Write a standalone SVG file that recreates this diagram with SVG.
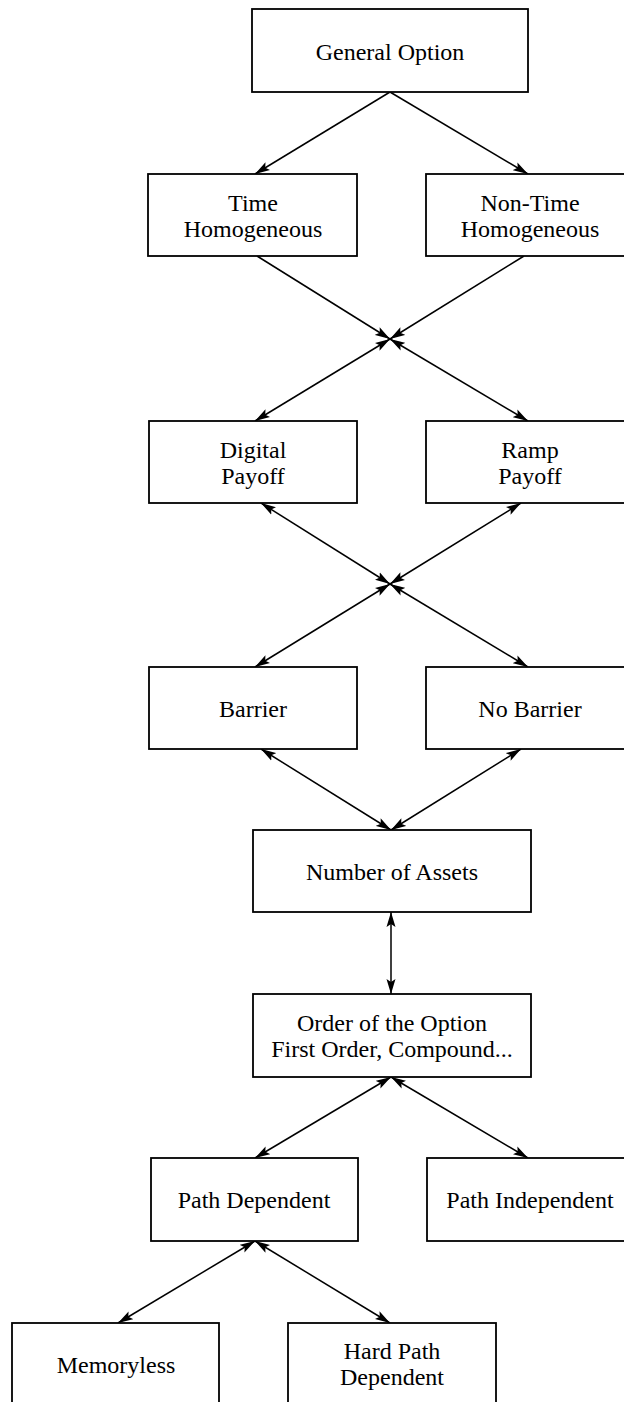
<svg xmlns="http://www.w3.org/2000/svg" width="624" height="1402" viewBox="0 0 624 1402">
<defs>
<marker id="ah" viewBox="0 0 15 10" refX="15" refY="5" markerWidth="15" markerHeight="10" markerUnits="userSpaceOnUse" orient="auto-start-reverse">
<path d="M0,0.5 L15,5 L0,9.5 L3,5 z" fill="#000"/>
</marker>
</defs>
<style>
.box{fill:#fff;stroke:#000;stroke-width:1.8}
.t{font-family:"Liberation Serif","Times New Roman",serif;font-size:24px;fill:#000;text-anchor:middle}
.c{fill:none;stroke:#000;stroke-width:1.5}
.one{marker-end:url(#ah)}
.two{marker-start:url(#ah);marker-end:url(#ah)}
</style>
<rect width="624" height="1402" fill="#fff"/>
<g id="connectors">
<line class="c one" x1="390" y1="92" x2="255" y2="174"/>
<line class="c one" x1="390" y1="92" x2="528" y2="174"/>
<line class="c one" x1="257" y1="256" x2="390" y2="339"/>
<line class="c one" x1="524" y1="256" x2="390" y2="339"/>
<line class="c two" x1="390" y1="339" x2="255" y2="421"/>
<line class="c two" x1="390" y1="339" x2="528" y2="421"/>
<line class="c two" x1="261" y1="503" x2="390" y2="584"/>
<line class="c two" x1="521" y1="503" x2="390" y2="584"/>
<line class="c two" x1="390" y1="584" x2="255" y2="667"/>
<line class="c two" x1="390" y1="584" x2="528" y2="667"/>
<line class="c two" x1="261" y1="749" x2="391" y2="830"/>
<line class="c two" x1="521" y1="749" x2="391" y2="830"/>
<line class="c two" x1="391" y1="912" x2="391" y2="994"/>
<line class="c two" x1="391" y1="1077" x2="255" y2="1158"/>
<line class="c two" x1="391" y1="1077" x2="528" y2="1158"/>
<line class="c two" x1="255" y1="1241" x2="118" y2="1323"/>
<line class="c two" x1="255" y1="1241" x2="390" y2="1323"/>
</g>
<g id="general-option"><rect class="box" x="252" y="9" width="276" height="83"/><text class="t" x="390" y="59.5">General Option</text></g>
<g id="time-homogeneous"><rect class="box" x="148" y="174" width="209" height="82"/><text class="t" x="253" y="210.5">Time</text><text class="t" x="253" y="236.5">Homogeneous</text></g>
<g id="non-time-homogeneous"><rect class="box" x="426" y="174" width="208" height="82"/><text class="t" x="530" y="210.5">Non-Time</text><text class="t" x="530" y="236.5">Homogeneous</text></g>
<g id="digital-payoff"><rect class="box" x="149" y="421" width="208" height="82"/><text class="t" x="253" y="457.5">Digital</text><text class="t" x="253" y="483.5">Payoff</text></g>
<g id="ramp-payoff"><rect class="box" x="426" y="421" width="208" height="82"/><text class="t" x="530" y="457.5">Ramp</text><text class="t" x="530" y="483.5">Payoff</text></g>
<g id="barrier"><rect class="box" x="149" y="667" width="208" height="82"/><text class="t" x="253" y="716.5">Barrier</text></g>
<g id="no-barrier"><rect class="box" x="426" y="667" width="208" height="82"/><text class="t" x="530" y="716.5">No Barrier</text></g>
<g id="number-of-assets"><rect class="box" x="253" y="830" width="278" height="82"/><text class="t" x="392" y="879.5">Number of Assets</text></g>
<g id="order-of-option"><rect class="box" x="253" y="994" width="278" height="83"/><text class="t" x="392" y="1031">Order of the Option</text><text class="t" x="392" y="1057">First Order, Compound...</text></g>
<g id="path-dependent"><rect class="box" x="151" y="1158" width="207" height="83"/><text class="t" x="254" y="1208">Path Dependent</text></g>
<g id="path-independent"><rect class="box" x="427" y="1158" width="207" height="83"/><text class="t" x="530" y="1208">Path Independent</text></g>
<g id="memoryless"><rect class="box" x="12" y="1323" width="207" height="90"/><text class="t" x="116" y="1373">Memoryless</text></g>
<g id="hard-path-dependent"><rect class="box" x="288" y="1323" width="208" height="90"/><text class="t" x="392" y="1359">Hard Path</text><text class="t" x="392" y="1385">Dependent</text></g>
</svg>
